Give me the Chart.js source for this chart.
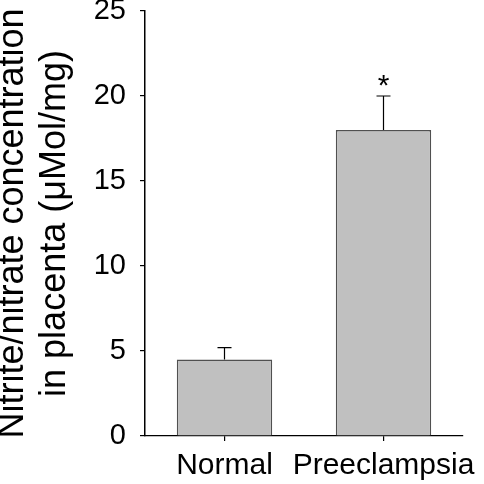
<!DOCTYPE html>
<html>
<head>
<meta charset="utf-8">
<script src="https://cdn.jsdelivr.net/npm/chart.js@4/dist/chart.umd.min.js"></script>
<style>
  html, body { margin: 0; padding: 0; background: #fff; }
  #wrap { width: 484px; height: 484px; }
</style>
</head>
<body>
<div id="wrap"><canvas id="chart" width="484" height="484"></canvas></div>
<script>
// data
const groups = ['Normal', 'Preeclampsia'];
const means = [4.5, 18.0];
const errors = [0.7, 2.0];
const marks = ['', '*'];
const yTicks = [0, 5, 10, 15, 20, 25];
const yTitle = ['Nitrite/nitrate concentration', 'in placenta (\u03bcMol/mg)'];

const FONT = "'Liberation Sans', Arial, sans-serif";

// error bars (upper only) + significance star
const errorBars = {
    id: 'errorBars',
    afterDatasetsDraw(chart) {
        const ctx = chart.ctx;
        const meta = chart.getDatasetMeta(0);
        const y = chart.scales.y;
        ctx.save();
        ctx.strokeStyle = '#000';
        ctx.lineWidth = 1.2;
        meta.data.forEach((bar, i) => {
            const x = bar.x;
            const yTop = y.getPixelForValue(means[i] + errors[i]);
            const yBase = y.getPixelForValue(means[i]);
            ctx.beginPath();
            ctx.moveTo(x, yBase);
            ctx.lineTo(x, yTop);
            ctx.moveTo(x - 7, yTop);
            ctx.lineTo(x + 7, yTop);
            ctx.stroke();
            if (marks[i]) {
                ctx.fillStyle = '#000';
                ctx.font = '30px ' + FONT;
                ctx.textAlign = 'center';
                ctx.textBaseline = 'middle';
                ctx.fillText(marks[i], x, yTop - 9);
            }
        });
        ctx.restore();
    }
};

new Chart(document.getElementById('chart'), {
    type: 'bar',
    data: {
        labels: groups,
        datasets: [{
            data: means,
            backgroundColor: '#c0c0c0',
            borderColor: '#505050',
            borderWidth: 1.5,
            barPercentage: 0.6,
            categoryPercentage: 1.0
        }]
    },
    options: {
        responsive: false,
        animation: false,
        layout: { padding: { top: 11, right: 21, left: 0, bottom: 0 } },
        plugins: {
            legend: { display: false },
            tooltip: { enabled: false }
        },
        scales: {
            x: {
                grid: {
                    offset: false,
                    drawOnChartArea: false,
                    drawTicks: true,
                    tickLength: 5,
                    color: '#000',
                    lineWidth: 1.2
                },
                border: { display: true, color: '#000', width: 1.2 },
                ticks: {
                    color: '#000',
                    font: { family: FONT, size: 30 },
                    padding: 7,
                    maxRotation: 0,
                    autoSkip: false
                },
                afterFit(scale) {
                    scale.height = 48;
                    scale.paddingLeft = 0;
                    scale.paddingRight = 0;
                }
            },
            y: {
                min: 0,
                max: 25,
                afterBuildTicks(scale) {
                    scale.ticks = yTicks.map(v => ({ value: v }));
                },
                grid: {
                    drawOnChartArea: false,
                    drawTicks: true,
                    tickLength: 5,
                    color: '#000',
                    lineWidth: 1.2
                },
                border: { display: true, color: '#000', width: 1.5 },
                ticks: {
                    color: '#000',
                    font: { family: FONT, size: 29 },
                    padding: 14
                },
                title: {
                    display: true,
                    text: yTitle,
                    color: '#000',
                    font: { family: FONT, size: 36, lineHeight: 1.17 },
                    padding: { top: -8, bottom: 0 }
                },
                afterFit(scale) {
                    scale.width = 145;
                    scale.paddingTop = 0;
                    scale.paddingBottom = 0;
                }
            }
        }
    },
    plugins: [errorBars]
});
</script>
</body>
</html>
